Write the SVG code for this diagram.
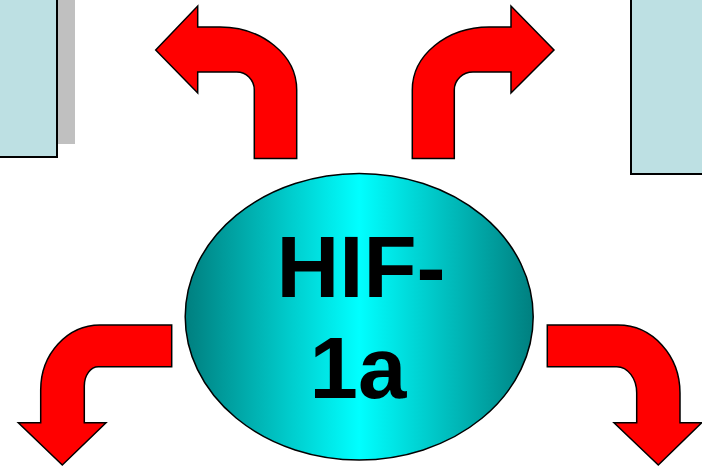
<svg xmlns="http://www.w3.org/2000/svg" width="702" height="469" viewBox="0 0 702 469">
  <defs>
    <linearGradient id="teal" x1="0" y1="0" x2="1" y2="0">
      <stop offset="0" stop-color="#007F7F"/>
      <stop offset="0.5" stop-color="#00FFFF"/>
      <stop offset="1" stop-color="#007F7F"/>
    </linearGradient>
  </defs>
  <style>
    .box { fill: #BDE0E3; stroke: #000; stroke-width: 2; }
    .shadow { fill: #C0C0C0; }
    .arrow { fill: #FF0000; stroke: #000; stroke-width: 1.5; stroke-linejoin: miter; }
    .label { font-family: "Liberation Sans", Arial, sans-serif; font-weight: bold; font-size: 87px; fill: #000; text-anchor: middle; }
  </style>
  <g id="box-left">
    <rect class="shadow" x="57" y="-5" width="18" height="149"/>
    <rect class="box" x="-5" y="-5" width="62" height="162"/>
  </g>
  <g id="box-right">
    <rect class="box" x="631" y="-5" width="80" height="179"/>
  </g>
  <g id="connectors">
    <path class="arrow" d="M 296.7 158.5 L 296.7 90 A 77 63 0 0 0 220 27 L 197.7 27 L 197.7 6 L 155.7 50 L 197.7 93 L 197.7 72 L 236.7 72 A 17.6 18 0 0 1 254.3 90 L 254.3 158.5 Z"/>
    <path class="arrow" d="M 412.3 158.5 L 412.3 90 A 77 63 0 0 1 489 27 L 511 27 L 511 6 L 554 50 L 511 93 L 511 72 L 473 72 A 18.7 18 0 0 0 454.3 90 L 454.3 158.5 Z"/>
    <path class="arrow" d="M 171.7 325 L 100 325 A 59.3 65 0 0 0 40.7 390 L 40.7 422.7 L 18.3 422.7 L 62.3 465 L 106 422.7 L 84.3 422.7 L 84.3 386 A 14 19.3 0 0 1 98.3 366.7 L 171.7 366.7 Z"/>
    <path class="arrow" d="M 547.3 325 L 618 325 A 62 68 0 0 1 680 393 L 680 422.7 L 701.7 422.7 L 658.3 465 L 614 422.7 L 636.7 422.7 L 636.7 393 A 20 26.3 0 0 0 616.7 366.7 L 547.3 366.7 Z"/>
  </g>
  <g id="hif1a">
    <ellipse cx="359.2" cy="316.7" rx="174" ry="143.3" fill="url(#teal)" stroke="#000" stroke-width="1.5"/>
    <text class="label" x="361" y="296.7">HIF-</text>
    <text class="label" x="358" y="398.3">1a</text>
  </g>
</svg>
